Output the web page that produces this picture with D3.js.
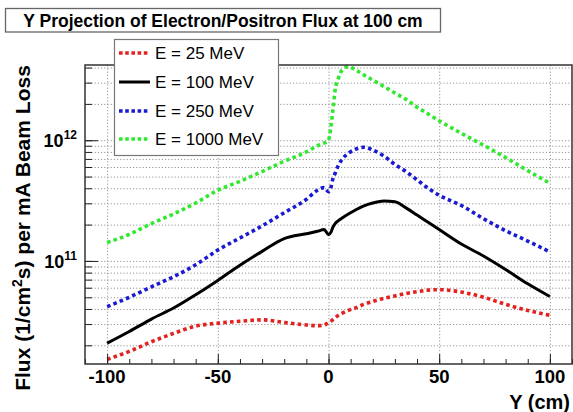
<!DOCTYPE html>
<html>
<head>
<meta charset="utf-8">
<script src="https://cdn.jsdelivr.net/npm/d3@7"></script>
<style>
  body { margin: 0; background: #fff; }
  svg { display: block; font-family: "Liberation Sans", Arial, Helvetica, sans-serif; }
</style>
</head>
<body>
<script>
var yPos = [-100, -90, -80, -70, -60, -50, -40, -30, -20, -10, -5, -2, 0, 1, 2, 3, 4.5, 6, 9, 12,
    16, 20, 25, 30, 35, 40, 45, 50, 60, 70, 80, 90, 100];

// flux per mA beam loss for each beam energy
var flux25 = [1.53e10, 1.78e10, 2.14e10, 2.51e10, 2.88e10, 3.05e10, 3.16e10, 3.25e10, 3.09e10, 2.95e10,
    2.91e10, 2.94e10, 3.09e10, 3.16e10, 3.27e10, 3.39e10, 3.55e10, 3.67e10, 3.89e10, 4.07e10,
    4.37e10, 4.62e10, 4.9e10, 5.13e10, 5.37e10, 5.57e10, 5.73e10, 5.78e10, 5.52e10, 5.01e10,
    4.37e10, 3.89e10, 3.55e10];
var flux100 = [2.08e10, 2.6e10, 3.3e10, 4.07e10, 5.25e10, 6.9e10, 9.2e10, 1.2e11, 1.53e11, 1.68e11,
    1.76e11, 1.82e11, 1.65e11, 1.72e11, 1.9e11, 2.04e11, 2.16e11, 2.26e11, 2.45e11, 2.63e11,
    2.86e11, 3.02e11, 3.14e11, 3.09e11, 2.75e11, 2.4e11, 2.09e11, 1.82e11, 1.38e11, 1.1e11,
    8.5e10, 6.46e10, 5.07e10];
var flux250 = [4.18e10, 5.0e10, 6.1e10, 7.4e10, 9.3e10, 1.23e11, 1.55e11, 1.95e11, 2.51e11, 3.24e11,
    3.85e11, 4.05e11, 3.75e11, 4.0e11, 4.8e11, 5.33e11, 6.2e11, 6.9e11, 7.8e11, 8.4e11,
    8.75e11, 8.3e11, 7.4e11, 6.3e11, 5.5e11, 4.7e11, 4.0e11, 3.5e11, 2.88e11, 2.24e11,
    1.78e11, 1.46e11, 1.19e11];
var flux1000 = [1.42e11, 1.66e11, 2.04e11, 2.45e11, 3.02e11, 3.85e11, 4.57e11, 5.5e11, 6.7e11, 8.0e11,
    9.0e11, 9.45e11, 1.0e12, 1.26e12, 1.78e12, 2.61e12, 3.27e12, 3.78e12, 4.07e12, 3.85e12,
    3.47e12, 3.15e12, 2.79e12, 2.46e12, 2.18e12, 1.88e12, 1.65e12, 1.45e12, 1.14e12, 9.1e11,
    7.2e11, 5.6e11, 4.4e11];

var seriesNames = ["E = 25 MeV", "E = 100 MeV", "E = 250 MeV", "E = 1000 MeV"];
var seriesColors = ["#e3221f", "#000000", "#1a1ad2", "#2fe82f"];

var xMajorTicks = [-100, -50, 0, 50, 100];
var yMajorTicks = [1e11, 1e12];

function setChart() {
    var W = 573, H = 412;
    var margin = { top: 65, right: 1, bottom: 48, left: 85 },
        width = W - margin.left - margin.right,
        height = H - margin.top - margin.bottom;

    var svg = d3.select("body").append("svg")
        .attr("width", W)
        .attr("height", H);

    var x = d3.scaleLinear().domain([-110, 110]).range([0, width]);
    var y = d3.scaleLog().domain([1.4e10, 4.2e12]).range([height, 0]);

    // minor ticks for the log axis: 1..9 x 10^n inside the domain
    var yMinorTicks = [];
    [10, 11, 12].forEach(function (e) {
        for (var k = 1; k < 10; k++) {
            var v = k * Math.pow(10, e);
            if (v >= 1.4e10 && v <= 4.2e12) yMinorTicks.push(v);
        }
    });
    var xMinorTicks = d3.range(-110, 111, 10);

    var g = svg.append("g")
        .attr("transform", "translate(" + margin.left + "," + margin.top + ")");

    // grid
    var gridStyle = function (sel) {
        sel.select(".domain").remove();
        sel.selectAll("line")
            .attr("stroke", "#8a8a8a")
            .attr("stroke-width", 0.9)
            .attr("stroke-dasharray", "1.2,2");
    };
    g.append("g")
        .call(d3.axisLeft(y).tickValues(yMinorTicks).tickSize(-width).tickFormat(""))
        .call(gridStyle);
    g.append("g")
        .attr("transform", "translate(0," + height + ")")
        .call(d3.axisBottom(x).tickValues(xMajorTicks).tickSize(-height).tickFormat(""))
        .call(gridStyle);

    // curves
    var allFlux = [flux25, flux100, flux250, flux1000];
    var line = d3.line()
        .x(function (d, i) { return x(yPos[i]); })
        .y(function (d) { return y(d); })
        .curve(d3.curveMonotoneX);

    allFlux.forEach(function (vals, s) {
        g.append("path")
            .datum(vals)
            .attr("d", line)
            .attr("fill", "none")
            .attr("stroke", seriesColors[s])
            .attr("stroke-width", s === 1 ? 3 : 3.6)
            .attr("stroke-linejoin", "round")
            .attr("stroke-dasharray", s === 1 ? null : "3.6,3.2");
    });

    // axis ticks (pointing inward)
    var tickStyle = function (sel) {
        sel.select(".domain").remove();
        sel.selectAll("line").attr("stroke", "#222").attr("stroke-width", 1);
    };
    g.append("g")
        .call(d3.axisLeft(y).tickValues(yMinorTicks).tickSize(-7).tickFormat(""))
        .call(tickStyle);
    g.append("g")
        .call(d3.axisLeft(y).tickValues(yMajorTicks).tickSize(-13).tickFormat(""))
        .call(tickStyle);
    g.append("g")
        .attr("transform", "translate(0," + height + ")")
        .call(d3.axisBottom(x).tickValues(xMinorTicks).tickSize(-5).tickFormat(""))
        .call(tickStyle);
    g.append("g")
        .attr("transform", "translate(0," + height + ")")
        .call(d3.axisBottom(x).tickValues(xMajorTicks).tickSize(-10).tickFormat(""))
        .call(tickStyle);

    // frame
    g.append("rect")
        .attr("width", width)
        .attr("height", height)
        .attr("fill", "none")
        .attr("stroke", "#333")
        .attr("stroke-width", 1.5);

    // x tick labels
    g.selectAll(".xlab")
        .data(xMajorTicks)
        .join("text")
        .attr("class", "xlab")
        .attr("x", function (d) { return x(d); })
        .attr("y", height + 19)
        .attr("text-anchor", "middle")
        .attr("font-size", 18.5)
        .attr("font-weight", "bold")
        .text(function (d) { return d; });

    // y tick labels 10^n
    yMajorTicks.forEach(function (v) {
        var t = g.append("text")
            .attr("x", -8)
            .attr("y", y(v) + 7)
            .attr("text-anchor", "end")
            .attr("font-size", 18)
            .attr("font-weight", "bold");
        t.append("tspan").text("10");
        t.append("tspan")
            .attr("font-size", 12)
            .attr("dy", -8)
            .text(Math.round(Math.log10(v)));
    });

    // axis titles
    svg.append("text")
        .attr("x", 570)
        .attr("y", 409)
        .attr("text-anchor", "end")
        .attr("font-size", 20)
        .attr("font-weight", "bold")
        .text("Y (cm)");

    var yt = svg.append("text")
        .attr("transform", "translate(30,228) rotate(-90)")
        .attr("text-anchor", "middle")
        .attr("font-size", 21)
        .attr("font-weight", "bold");
    yt.append("tspan").text("Flux (1/cm");
    yt.append("tspan").attr("font-size", 14).attr("dy", -8).text("2");
    yt.append("tspan").attr("dy", 8).text("s) per mA Beam Loss");

    // title box
    svg.append("rect")
        .attr("x", 5.5).attr("y", 8.5)
        .attr("width", 435).attr("height", 23.5)
        .attr("fill", "#fff")
        .attr("stroke", "#666")
        .attr("stroke-width", 1.3);
    svg.append("text")
        .attr("x", 223)
        .attr("y", 26.5)
        .attr("text-anchor", "middle")
        .attr("font-size", 17.5)
        .attr("font-weight", "bold")
        .text("Y Projection of Electron/Positron Flux at 100 cm");

    // legend
    var legend = svg.append("g");
    legend.append("rect")
        .attr("x", 114.5).attr("y", 39.5)
        .attr("width", 164).attr("height", 116)
        .attr("fill", "#fff")
        .attr("stroke", "#777")
        .attr("stroke-width", 1.2);
    var legY = [53, 82, 111, 139];
    seriesNames.forEach(function (name, s) {
        legend.append("line")
            .attr("x1", 119).attr("x2", 150)
            .attr("y1", legY[s]).attr("y2", legY[s])
            .attr("stroke", seriesColors[s])
            .attr("stroke-width", s === 1 ? 3 : 3.6)
            .attr("stroke-dasharray", s === 1 ? null : "3.6,2.6");
        legend.append("text")
            .attr("x", 155)
            .attr("y", legY[s] + 6)
            .attr("font-size", 17)
            .text(name);
    });
}

window.onload = setChart;
</script>
</body>
</html>
